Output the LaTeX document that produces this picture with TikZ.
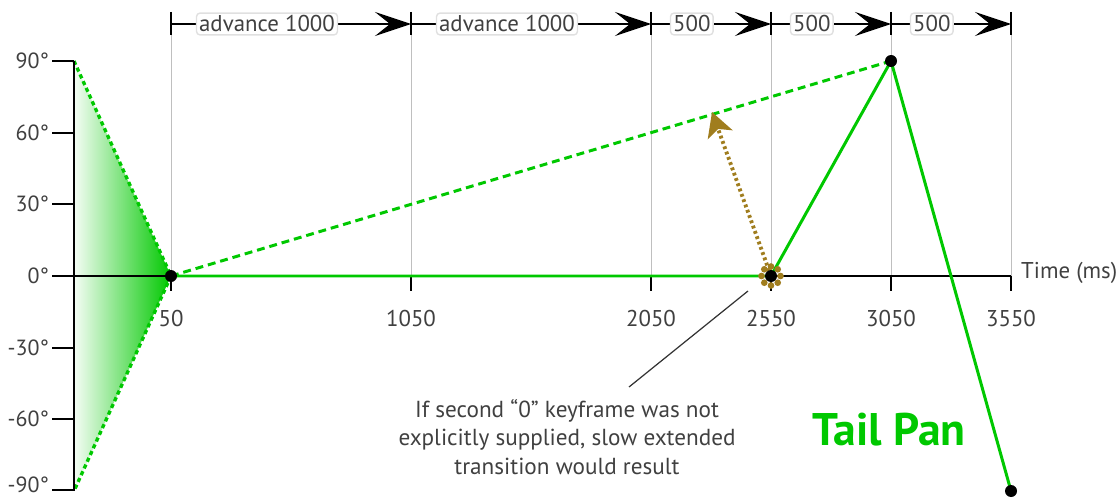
\documentclass[tikz,border=0pt]{standalone}
\usepackage{fontspec}
\setmainfont{PT Sans}
\usetikzlibrary{arrows.meta, positioning, calc}

\definecolor{pangreen}{RGB}{0,200,0}
\definecolor{notebrown}{RGB}{160,125,30}
\definecolor{labelgray}{RGB}{64,64,64}

\begin{document}
\begin{tikzpicture}[x=0.02cm, y=-0.02cm,
    axis/.style={line width=1.6pt, draw=black},
    gridline/.style={draw=black!25, line width=0.4pt},
    tickmark/.style={line width=1pt, draw=black},
    degree/.style={font=\fontsize{12.5}{14}\selectfont, text=labelgray, anchor=east, inner sep=1pt},
    timelabel/.style={font=\fontsize{13}{15}\selectfont, text=labelgray, anchor=base},
    spanlabel/.style={font=\fontsize{13}{15}\selectfont, text=labelgray, fill=white, draw=black!12, rounded corners=2pt, inner sep=1.5pt},
    span/.style={line width=0.8pt, -{Stealth[length=0.72cm, width=0.48cm, inset=0.3cm]}},
    keyframe/.style={circle, fill=black, inner sep=0pt, minimum size=0.24cm},
    panline/.style={draw=pangreen, line width=1.7pt},
    pandash/.style={panline, dash pattern=on 4.5pt off 2.8pt},
    pandot/.style={panline, line width=1.9pt, dash pattern=on 2.4pt off 1.8pt},
    ghostarrow/.style={draw=notebrown, line width=2.2pt, dash pattern=on 1.6pt off 1.6pt,
        -{Stealth[length=0.48cm, width=0.52cm, inset=0.12cm]}},
    note/.style={font=\fontsize{13.2}{16}\selectfont, text=labelgray, align=center},
    leader/.style={draw=black!80, line width=0.7pt}
]
\useasboundingbox (0,0) rectangle (1118,500);

% keyframes
\coordinate (k50) at (171,276);
\coordinate (k2550) at (771,276);
\coordinate (k3050) at (891,61);
\coordinate (k3550) at (1011,491);

% y axis ends
\coordinate (ytop) at (74,61);
\coordinate (ybot) at (74,491);

% shaded spread at the start
\shade[left color=pangreen!4, right color=pangreen] (ytop) -- (k50) -- (ybot) -- cycle;
\draw[pandot] (ytop) -- (k50) -- (ybot);

% time grid, ticks and spans
\foreach \t/\x in {50/171, 1050/411, 2050/651, 2550/771, 3050/891, 3550/1011}{
  \draw[gridline] (\x,24) -- (\x,276);
  \draw[tickmark] (\x,12) -- (\x,35);
  \draw[tickmark] (\x,276) -- (\x,291);
  \coordinate (top\t) at (\x,24);
  \node[timelabel] (t\t) at (\x,326) {\t};
}
\draw[span] (top50) -- node[spanlabel, pos=0.40] (adv1) {advance 1000} (top1050);
\draw[span] (top1050) -- node[spanlabel, pos=0.40] (adv2) {advance 1000} (top2050);
\draw[span] (top2050) -- node[spanlabel, pos=0.34] (half1) {500} (top2550);
\draw[span] (top2550) -- node[spanlabel, pos=0.34] (half2) {500} (top3050);
\draw[span] (top3050) -- node[spanlabel, pos=0.34] (half3) {500} (top3550);

% axes
\draw[axis] (ytop) -- (ybot);
\foreach \deg/\y/\ly in {90/61/61, 60/132.7/132.7, 30/204.3/204.3, 0/276/276, -30/347.7/347.7, -60/419.3/419.3, -90/490/485}{
  \draw[tickmark, line width=1.2pt] (52,\y) -- (74,\y);
  \node[degree] (deg\deg) at (51,\ly) {\deg°};
}
\draw[axis] (52,276) -- (1011,276);
\node[font=\fontsize{13}{15}\selectfont, text=labelgray, anchor=west] (timeaxis) at (1015,273) {Time (ms)};

% pan curve
\draw[pandash] (k50) -- (k3050);
\draw[panline] (k50) -- (k2550) -- (k3050) -- (k3550);

% missing keyframe hint
\coordinate (ghost) at (712,112);
\draw[ghostarrow] (k2550) -- (ghost);
\foreach \a in {0,45,...,315}
  \fill[notebrown] (k2550) ++(\a:5.4pt) circle (1.9pt);

\foreach \k in {k50,k2550,k3050,k3550}
  \node[keyframe] at (\k) {};

% note
\node[note] (remark) at (567,437) {If second “0” keyframe was not\\explicitly supplied, slow extended\\transition would result};
\coordinate (remarkfrom) at (629,387);
\coordinate (remarkto) at (748,291);
\draw[leader] (remarkfrom) -- (remarkto);

\node[font=\fontsize{26}{30}\selectfont\bfseries, text=pangreen, anchor=west] (title) at (806,430) {Tail Pan};
\end{tikzpicture}
\end{document}
